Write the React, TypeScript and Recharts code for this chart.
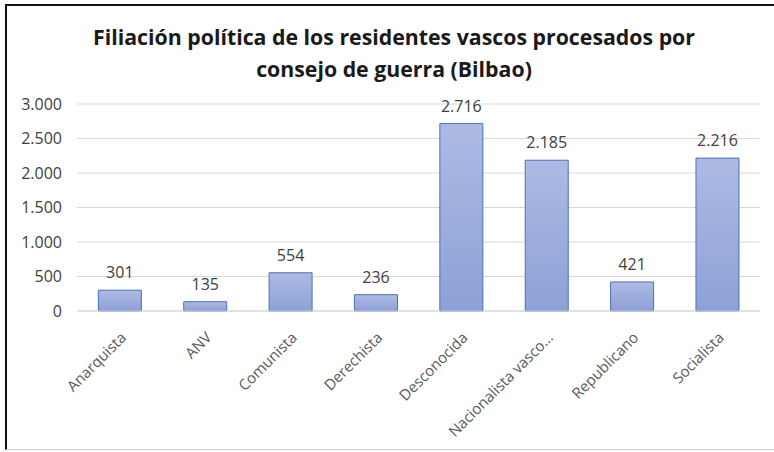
import React from "react";
import { Bar, BarChart, CartesianGrid, LabelList, XAxis, YAxis } from "recharts";

const categories = [
  "Anarquista",
  "ANV",
  "Comunista",
  "Derechista",
  "Desconocida",
  "Nacionalista vasco…",
  "Republicano",
  "Socialista",
];
const counts = [301, 135, 554, 236, 2716, 2185, 421, 2216];
const yTicks = [0, 500, 1000, 1500, 2000, 2500, 3000];

const data = categories.map((name, i) => ({ name, count: counts[i] }));

const fmt = (v: number) => String(v).replace(/\B(?=(\d{3})+(?!\d))/g, ".");

const FONT = "'Open Sans', 'Noto Sans', sans-serif";

function XTick(props: any) {
  const { x, y, payload } = props;
  return (
    <g transform={`translate(${x + 4},${y + 16})`}>
      <text
        textAnchor="end"
        transform="rotate(-45)"
        fontSize={15}
        fill="#595959"
        fontFamily={FONT}
        dy={5}
      >
        {payload.value}
      </text>
    </g>
  );
}

export default function App() {
  return (
    <div style={{ position: "absolute", left: 0, top: 0, width: 774, height: 452, background: "#fff" }}>
      <div
        style={{
          position: "absolute",
          left: 5,
          top: 4,
          width: 769,
          height: 446,
          borderLeft: "2px solid #111",
          borderTop: "2px solid #111",
          borderBottom: "1px solid #d0d0d0",
          boxSizing: "border-box",
        }}
      />
      <div
        style={{
          position: "absolute",
          left: 0,
          top: 21,
          width: 788,
          textAlign: "center",
          fontFamily: FONT,
          fontWeight: 700,
          fontSize: 21.3,
          lineHeight: "32px",
          color: "#1a1a1a",
        }}
      >
        Filiación política de los residentes vascos procesados por
        <br />
        consejo de guerra (Bilbao)
      </div>
      <div style={{ position: "absolute", left: 0, top: 0 }}>
        <BarChart
          width={774}
          height={452}
          data={data}
          margin={{ top: 104, right: 14, left: 0, bottom: 41 }}
          barCategoryGap="25%"
        >
          <defs>
            <linearGradient id="barFill" x1="0" y1="0" x2="0" y2="1">
              <stop offset="0%" stopColor="#adbbe3" />
              <stop offset="100%" stopColor="#8da1d7" />
            </linearGradient>
          </defs>
          <CartesianGrid vertical={false} stroke="#d9d9d9" />
          <XAxis
            dataKey="name"
            interval={0}
            height={100}
            axisLine={{ stroke: "#d9d9d9" }}
            tickLine={false}
            tick={<XTick />}
          />
          <YAxis
            width={77}
            domain={[0, 3000]}
            ticks={yTicks}
            axisLine={false}
            tickLine={false}
            tickSize={0}
            tickMargin={15}
            tickFormatter={fmt}
            tick={{ fontSize: 16, fill: "#404040", fontFamily: FONT }}
          />
          <Bar dataKey="count" fill="url(#barFill)" stroke="#4a6fbe" strokeWidth={1} isAnimationActive={false}>
            <LabelList
              dataKey="count"
              position="top"
              offset={12}
              formatter={(v: any) => fmt(Number(v))}
              style={{ fontSize: 16, fill: "#404040", fontFamily: FONT }}
            />
          </Bar>
        </BarChart>
      </div>
    </div>
  );
}
